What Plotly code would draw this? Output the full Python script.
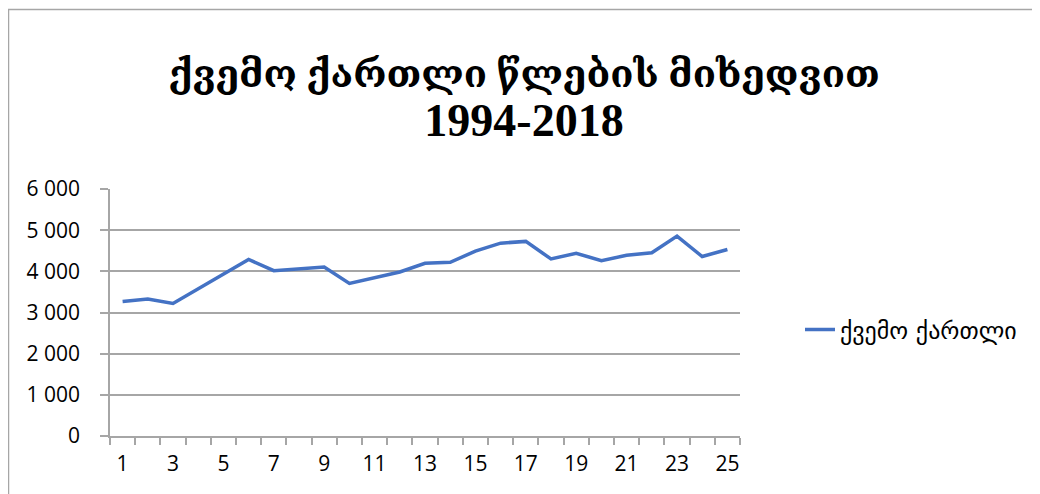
import plotly.graph_objects as go

periods = list(range(1, 26))
values = [3270, 3330, 3220, 3580, 3940, 4290, 4015, 4050, 4105, 3705,
          3850, 3985, 4195, 4220, 4490, 4685, 4727, 4300, 4440, 4260,
          4390, 4450, 4857, 4360, 4530]
series_name = "ქვემო ქართლი"
title_line1 = "ქვემო ქართლი წლების მიხედვით"
title_line2 = "1994-2018"
y_ticks = [0, 1000, 2000, 3000, 4000, 5000, 6000]
y_tick_labels = ["0", "1 000", "2 000", "3 000", "4 000", "5 000", "6 000"]
x_ticks = list(range(1, 26, 2))

fig = go.Figure()
fig.add_trace(go.Scatter(
    x=periods, y=values, mode="lines", name=series_name,
    line=dict(color="#4472C4", width=3.5),
))

OFF = 8  # page body margin
W, H = 1040, 494
L = 110 - OFF
T = 189 - OFF
R = W - (740 - OFF)
B = H - (436 - OFF)
pw, ph = W - L - R, H - T - B

def px_x(x):
    return (x - OFF - L) / pw

def px_y(y):
    return (H - B - (y - OFF)) / ph

title_html = ("<b>" + title_line1 + "</b><br><b><span style='font-size:46px'>"
              + title_line2 + "</span></b>")

fig.update_layout(
    width=W, height=H,
    margin=dict(l=L, r=R, t=T, b=B),
    paper_bgcolor="white", plot_bgcolor="white",
    title=dict(text=title_html, x=(524 - OFF) / W, xanchor="center",
               y=1 - (87 - OFF) / H, yanchor="middle",
               font=dict(family="Liberation Serif, DejaVu Serif", size=38, color="black")),
    showlegend=True,
    legend=dict(x=px_x(800), xanchor="left", y=px_y(330), yanchor="middle",
                font=dict(family="DejaVu Sans", size=24, color="black"),
                bgcolor="rgba(0,0,0,0)"),
    font=dict(family="Open Sans, Liberation Sans", size=21, color="black"),
)
fig.update_xaxes(
    range=[0.5, 25.5], tickmode="array", tickvals=x_ticks, ticks="",
    showgrid=False, zeroline=False, showline=True, linecolor="#A6A6A6", linewidth=1.5,
    minor=dict(tick0=0.5, dtick=1, ticks="outside", ticklen=7, tickcolor="#A6A6A6", tickwidth=1.5),
    tickfont=dict(size=21), ticklabelstandoff=8,
)
fig.update_yaxes(
    range=[0, 6000], tickmode="array", tickvals=y_ticks, ticktext=y_tick_labels,
    ticks="outside", ticklen=8, tickcolor="#A6A6A6", tickwidth=1.5,
    showgrid=True, gridcolor="#A6A6A6", gridwidth=1.5, zeroline=False,
    showline=True, linecolor="#A6A6A6", linewidth=1.5,
    tickfont=dict(size=21), ticklabelstandoff=16,
)
fig.add_shape(type="rect", xref="paper", yref="paper",
              x0=px_x(8.5), x1=px_x(W + 30),
              y0=px_y(H + 30), y1=px_y(9.5),
              line=dict(color="#A6A6A6", width=1.5), fillcolor="rgba(0,0,0,0)", layer="below")

fig.write_html("out.html")
